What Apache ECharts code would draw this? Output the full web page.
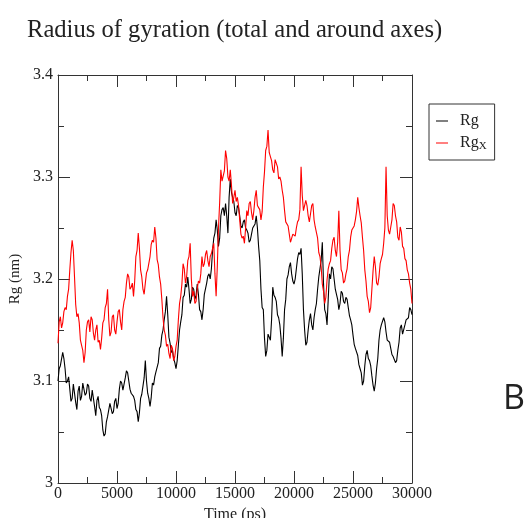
<!DOCTYPE html>
<html>
<head>
<meta charset="utf-8">
<script src="https://cdn.jsdelivr.net/npm/echarts@6/dist/echarts.min.js"></script>
<style>
  html, body { margin: 0; padding: 0; background: #fff; }
  #chart { width: 525px; height: 518px; }
</style>
</head>
<body>
<div id="chart"></div>
<script>
// Sampling interval of the trajectory values below (ps)
const timeStep = 100;

// Total radius of gyration, Rg (nm), one value every 100 ps from 0 to 30000 ps
const rgTotal = [
  3.100,3.112,3.115,3.114,3.128,3.122,3.112,3.098,3.100,3.104,
  3.092,3.080,3.083,3.097,3.098,3.079,3.072,3.090,3.095,3.081,
  3.085,3.098,3.099,3.086,3.088,3.097,3.095,3.083,3.080,3.091,
  3.092,3.075,3.066,3.081,3.085,3.074,3.072,3.066,3.052,3.046,
  3.048,3.060,3.065,3.066,3.078,3.079,3.068,3.070,3.080,3.083,
  3.073,3.078,3.092,3.100,3.098,3.091,3.090,3.103,3.110,3.108,
  3.100,3.092,3.088,3.089,3.085,3.081,3.072,3.070,3.060,3.069,
  3.083,3.087,3.095,3.103,3.120,3.100,3.088,3.083,3.075,3.084,
  3.098,3.096,3.104,3.109,3.110,3.118,3.132,3.134,3.145,3.150,
  3.160,3.168,3.183,3.165,3.143,3.137,3.128,3.130,3.122,3.118,
  3.112,3.120,3.135,3.150,3.158,3.165,3.182,3.184,3.195,3.192,
  3.202,3.190,3.176,3.180,3.192,3.190,3.180,3.184,3.195,3.185,
  3.170,3.168,3.160,3.170,3.185,3.186,3.196,3.203,3.205,3.200,
  3.210,3.228,3.240,3.245,3.258,3.248,3.232,3.240,3.262,3.268,
  3.270,3.262,3.274,3.262,3.245,3.280,3.298,3.285,3.280,3.276,
  3.265,3.262,3.272,3.270,3.262,3.252,3.250,3.256,3.258,3.250,
  3.248,3.245,3.236,3.238,3.244,3.250,3.252,3.254,3.262,3.250,
  3.232,3.218,3.190,3.172,3.170,3.142,3.124,3.130,3.146,3.146,
  3.140,3.160,3.192,3.184,3.182,3.178,3.165,3.162,3.155,3.142,
  3.124,3.142,3.170,3.180,3.200,3.204,3.212,3.216,3.205,3.198,
  3.195,3.200,3.210,3.220,3.226,3.224,3.230,3.205,3.170,3.150,
  3.135,3.138,3.150,3.160,3.166,3.155,3.150,3.162,3.170,3.176,
  3.190,3.202,3.210,3.218,3.236,3.196,3.170,3.166,3.155,3.180,
  3.205,3.200,3.212,3.210,3.200,3.190,3.185,3.180,3.170,3.176,
  3.188,3.186,3.178,3.176,3.182,3.180,3.172,3.164,3.160,3.155,
  3.145,3.136,3.132,3.132,3.125,3.116,3.112,3.108,3.096,3.100,
  3.115,3.126,3.130,3.122,3.120,3.115,3.105,3.096,3.090,3.098,
  3.112,3.122,3.140,3.150,3.155,3.155,3.162,3.158,3.148,3.140,
  3.140,3.138,3.132,3.126,3.124,3.124,3.118,3.120,3.130,3.138,
  3.152,3.155,3.146,3.145,3.155,3.160,3.160,3.162,3.172,3.170,
  3.165
];

// Radius of gyration around the x axis, Rg_X (nm), same sampling
const rgX = [
  3.137,3.158,3.163,3.152,3.157,3.168,3.172,3.170,3.183,3.190,
  3.209,3.226,3.238,3.228,3.202,3.175,3.163,3.166,3.157,3.140,
  3.135,3.130,3.118,3.128,3.150,3.158,3.160,3.148,3.163,3.160,
  3.147,3.140,3.150,3.155,3.138,3.140,3.131,3.142,3.157,3.160,
  3.172,3.176,3.190,3.160,3.144,3.148,3.163,3.165,3.150,3.146,
  3.158,3.168,3.170,3.158,3.150,3.170,3.178,3.182,3.196,3.205,
  3.202,3.190,3.192,3.196,3.183,3.198,3.222,3.228,3.245,3.230,
  3.209,3.202,3.190,3.185,3.196,3.206,3.209,3.210,3.222,3.234,
  3.238,3.236,3.251,3.240,3.219,3.214,3.202,3.195,3.180,3.162,
  3.150,3.145,3.134,3.136,3.127,3.122,3.135,3.132,3.120,3.124,
  3.134,3.140,3.160,3.176,3.183,3.195,3.215,3.210,3.196,3.202,
  3.218,3.222,3.235,3.200,3.183,3.188,3.176,3.178,3.190,3.198,
  3.196,3.205,3.222,3.212,3.215,3.224,3.228,3.218,3.212,3.222,
  3.225,3.226,3.235,3.205,3.183,3.212,3.250,3.275,3.307,3.296,
  3.297,3.306,3.326,3.318,3.300,3.296,3.307,3.292,3.274,3.280,
  3.287,3.276,3.280,3.272,3.258,3.244,3.240,3.242,3.235,3.250,
  3.267,3.262,3.274,3.276,3.265,3.258,3.267,3.280,3.287,3.272,
  3.270,3.268,3.258,3.266,3.290,3.305,3.326,3.330,3.346,3.324,
  3.320,3.316,3.307,3.304,3.317,3.318,3.310,3.298,3.300,3.296,
  3.287,3.280,3.267,3.256,3.255,3.252,3.244,3.236,3.235,3.244,
  3.245,3.242,3.250,3.256,3.258,3.268,3.310,3.282,3.267,3.268,
  3.277,3.272,3.262,3.256,3.264,3.272,3.274,3.258,3.251,3.250,
  3.240,3.226,3.222,3.212,3.195,3.188,3.176,3.182,3.199,3.210,
  3.215,3.218,3.230,3.238,3.241,3.228,3.222,3.236,3.267,3.228,
  3.209,3.206,3.196,3.198,3.205,3.210,3.222,3.228,3.241,3.248,
  3.250,3.252,3.258,3.266,3.280,3.270,3.262,3.255,3.241,3.228,
  3.209,3.198,3.183,3.178,3.167,3.172,3.190,3.208,3.222,3.212,
  3.196,3.194,3.202,3.215,3.220,3.224,3.235,3.250,3.310,3.262,
  3.248,3.244,3.251,3.258,3.274,3.272,3.262,3.256,3.241,3.238,
  3.251,3.246,3.232,3.230,3.220,3.218,3.209,3.205,3.196,3.190,
  3.176
];

const seriesNames = ['Rg', 'RgX'];
const seriesColors = ['#000000', '#ff0000'];

const serif = '"Liberation Serif", "Times New Roman", serif';
const axisColor = '#333';
const textColor = '#222';

function toPairs(values) {
  return values.map((v, i) => [i * timeStep, v]);
}

function xAxisDef(position, showLabel, name) {
  return {
    type: 'value', position: position, min: 0, max: 30000, interval: 5000,
    name: name, nameLocation: 'middle', nameGap: 23,
    nameTextStyle: { fontFamily: serif, fontSize: 16, color: textColor },
    axisLine: { show: true, onZero: false, lineStyle: { color: axisColor, width: 1 } },
    axisTick: { show: true, inside: true, length: 12, lineStyle: { color: axisColor } },
    minorTick: { show: true, splitNumber: 2, length: 6, lineStyle: { color: axisColor } },
    splitLine: { show: false },
    axisLabel: {
      show: showLabel, fontFamily: serif, fontSize: 16, color: textColor, margin: 3,
      formatter: v => String(v)
    }
  };
}

function yAxisDef(position, showLabel, name) {
  return {
    type: 'value', position: position, min: 3, max: 3.4, interval: 0.1,
    name: name, nameLocation: 'middle', nameGap: 29, nameRotate: 90,
    nameTextStyle: { fontFamily: serif, fontSize: 15, color: textColor },
    axisLine: { show: true, onZero: false, lineStyle: { color: axisColor, width: 1 } },
    axisTick: { show: true, inside: true, length: 12, lineStyle: { color: axisColor } },
    minorTick: { show: true, splitNumber: 2, length: 6, lineStyle: { color: axisColor } },
    splitLine: { show: false },
    axisLabel: {
      show: showLabel, fontFamily: serif, fontSize: 16, color: textColor, margin: 5,
      formatter: v => (Math.abs(v - 3) < 1e-9 ? '3' : v.toFixed(1))
    }
  };
}

const chart = echarts.init(document.getElementById('chart'), null, { renderer: 'canvas' });

chart.setOption({
  animation: false,
  backgroundColor: '#ffffff',
  title: {
    text: 'Radius of gyration (total and around axes)',
    left: 22, top: 13,
    textStyle: { fontFamily: serif, fontSize: 24.6, fontWeight: 'normal', color: textColor }
  },
  grid: { left: 58, right: 113, top: 75, bottom: 35, containLabel: false, outerBoundsMode: 'none' },
  xAxis: [xAxisDef('bottom', true, 'Time (ps)'), xAxisDef('top', false, '')],
  yAxis: [yAxisDef('left', true, 'Rg (nm)'), yAxisDef('right', false, '')],
  legend: {
    orient: 'vertical',
    left: 429, top: 104,
    padding: [9, 8, 8, 7],
    itemGap: 6,
    itemWidth: 12, itemHeight: 1,
    borderColor: '#333', borderWidth: 1, borderRadius: 0,
    icon: 'rect',
    data: seriesNames,
    formatter: name => name === 'RgX' ? '{m|Rg}{s|X}' : '{m|Rg}',
    textStyle: {
      color: textColor, fontFamily: serif, fontSize: 16,
      rich: {
        m: { fontFamily: serif, fontSize: 16, color: textColor, padding: [0, 0, 0, 7] },
        s: { fontFamily: serif, fontSize: 11, color: textColor, verticalAlign: 'bottom', padding: [7, 0, 0, 0] }
      }
    }
  },
  series: [
    {
      name: seriesNames[0], type: 'line', xAxisIndex: 0, yAxisIndex: 0,
      data: toPairs(rgTotal), showSymbol: false, symbol: 'none',
      lineStyle: { color: seriesColors[0], width: 1.1 }, itemStyle: { color: seriesColors[0] }
    },
    {
      name: seriesNames[1], type: 'line', xAxisIndex: 0, yAxisIndex: 0,
      data: toPairs(rgX), showSymbol: false, symbol: 'none',
      lineStyle: { color: seriesColors[1], width: 1.1 }, itemStyle: { color: seriesColors[1] }
    }
  ],
  graphic: [
    {
      type: 'text', left: 503, top: 382,
      style: { text: 'B', fontFamily: '"Open Sans", "Noto Sans", sans-serif', fontSize: 34, fill: textColor }
    }
  ]
});
</script>
</body>
</html>
